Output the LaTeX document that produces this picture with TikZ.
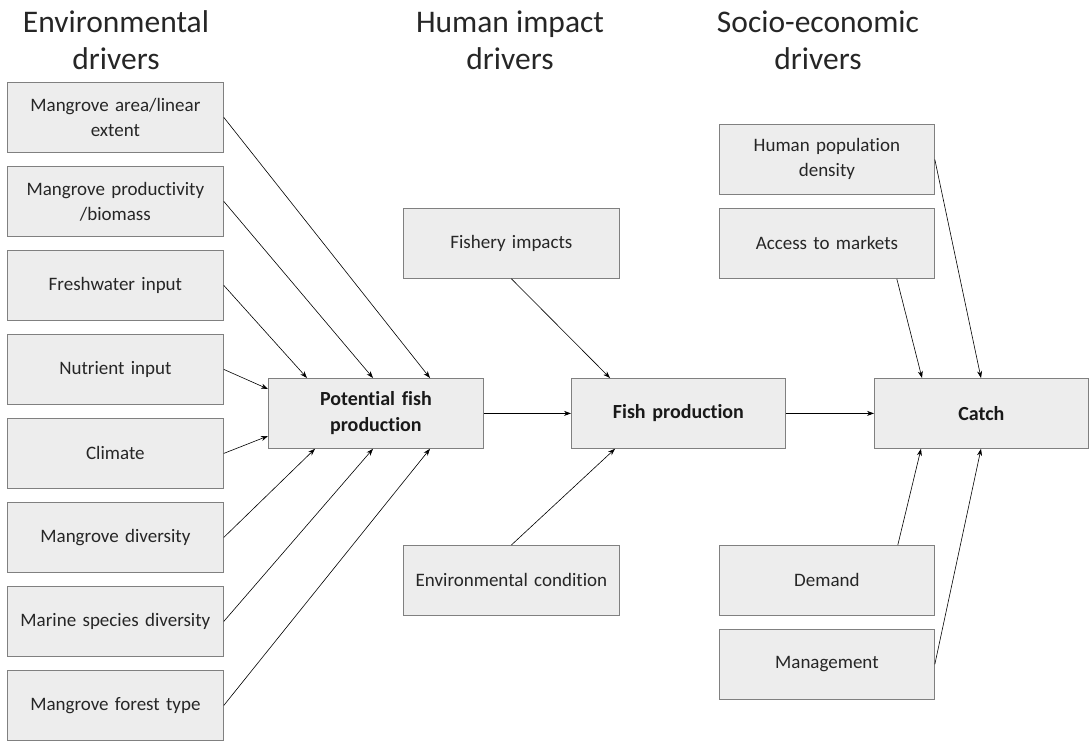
\documentclass[tikz,border=0pt]{standalone}
\usepackage{fontspec}
\setmainfont{Carlito}[Ligatures={NoCommon}]
\usetikzlibrary{arrows.meta}
\begin{document}
\begin{tikzpicture}[x=1pt,y=-1pt,
  box/.style={draw=black!50, fill=black!7, line width=0.8pt, minimum width=216pt, minimum height=70pt, inner sep=2pt, align=center, font=\fontsize{19}{25}\selectfont, text=black!85, anchor=north west, text width=210pt},
  main/.style={box, font=\fontsize{20}{26}\selectfont\bfseries, text=black!90, minimum height=70pt},
  head/.style={align=center, font=\fontsize{31.5}{37}\selectfont, text=black!85},
  arr/.style={-{Stealth[length=7pt,width=5pt]}, line width=0.6pt}]
\useasboundingbox (0,0) rectangle (1089,741);
% headings
\node[head] (h1) at (116,40) {Environmental\\drivers};
\node[head] (h2) at (510,40) {Human impact\\drivers};
\node[head] (h3) at (818,40) {Socio-economic\\drivers};
% left column
\node[box] (b1) at (7,82) {Mangrove area/linear\\extent};
\node[box] (b2) at (7,166) {Mangrove productivity\\/biomass};
\node[box] (b3) at (7,250) {Freshwater input};
\node[box] (b4) at (7,334) {Nutrient input};
\node[box] (b5) at (7,418) {Climate};
\node[box] (b6) at (7,502) {Mangrove diversity};
\node[box] (b7) at (7,586) {Marine species diversity};
\node[box] (b8) at (7,670) {Mangrove forest type};
% main nodes
\node[main, minimum width=215pt] (pot) at (268,378) {Potential fish\\production};
\node[main, minimum width=214pt] (fish) at (571,378) {Fish production};
\node[main, minimum width=214pt] (catch) at (874,378) {Catch};
% human impact
\node[box] (fi) at (403,208) {Fishery impacts};
\node[box] (ec) at (403,545) {Environmental condition};
% socio-economic
\node[box, minimum width=215pt] (hp) at (719,124) {Human population\\density};
\node[box, minimum width=215pt] (am) at (719,208) {Access to markets};
\node[box, minimum width=215pt] (de) at (719,545) {Demand};
\node[box, minimum width=215pt] (mg) at (719,629) {Management};
% arrows into potential
\draw[arr] (b1.east) -- ([xshift=162pt]pot.north west);
\draw[arr] (b2.east) -- ([xshift=105pt]pot.north west);
\draw[arr] (b3.east) -- ([xshift=39pt]pot.north west);
\draw[arr] (b4.east) -- ([yshift=-11pt]pot.north west);
\draw[arr] (b5.east) -- ([yshift=-58pt]pot.north west);
\draw[arr] (b6.east) -- ([xshift=47pt]pot.south west);
\draw[arr] (b7.east) -- ([xshift=105pt]pot.south west);
\draw[arr] (b8.east) -- ([xshift=162pt]pot.south west);
% main chain
\draw[arr] (pot.east) -- (fish.west);
\draw[arr] (fish.east) -- (catch.west);
% human impact
\draw[arr] (fi.south) -- ([xshift=39pt]fish.north west);
\draw[arr] (ec.north) -- ([xshift=44pt]fish.south west);
% socio-economic
\draw[arr] ([xshift=-38pt]am.south east) -- ([xshift=48pt]catch.north west);
\draw[arr] (hp.east) -- ([xshift=107pt]catch.north west);
\draw[arr] ([xshift=-37pt]de.north east) -- ([xshift=47pt]catch.south west);
\draw[arr] (mg.east) -- ([xshift=107pt]catch.south west);
\end{tikzpicture}
\end{document}
